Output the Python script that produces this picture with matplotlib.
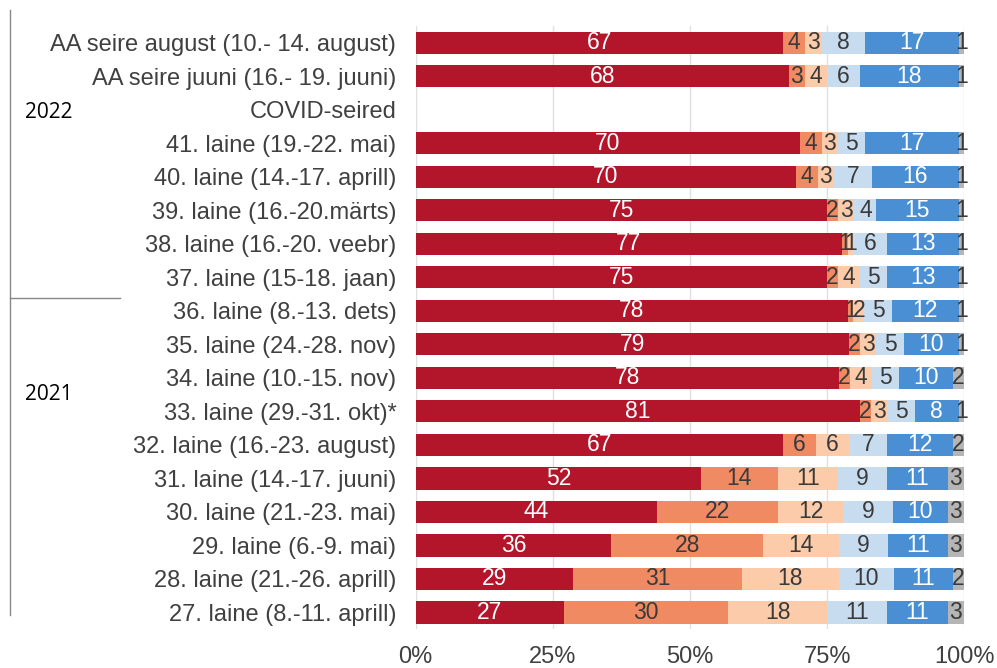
import numpy as np
import matplotlib
matplotlib.use("Agg")
import matplotlib.pyplot as plt

plt.rcParams['font.family'] = ['Liberation Sans', 'DejaVu Sans']

# Row labels, top to bottom
labels = ["AA seire august (10.- 14. august)",
          "AA seire juuni (16.- 19. juuni)",
          "COVID-seired",
          "41. laine (19.-22. mai)",
          "40. laine (14.-17. aprill)",
          "39. laine (16.-20.märts)",
          "38. laine (16.-20. veebr)",
          "37. laine (15-18. jaan)",
          "36. laine (8.-13. dets)",
          "35. laine (24.-28. nov)",
          "34. laine (10.-15. nov)",
          "33. laine (29.-31. okt)*",
          "32. laine (16.-23. august)",
          "31. laine (14.-17. juuni)",
          "30. laine (21.-23. mai)",
          "29. laine (6.-9. mai)",
          "28. laine (21.-26. aprill)",
          "27. laine (8.-11. aprill)"]

# Segment values per row (0 for the empty heading row)
s1 = [67, 68, 0, 70, 70, 75, 77, 75, 78, 79, 78, 81, 67, 52, 44, 36, 29, 27]
s2 = [4, 3, 0, 4, 4, 2, 1, 2, 1, 2, 2, 2, 6, 14, 22, 28, 31, 30]
s3 = [3, 4, 0, 3, 3, 3, 1, 4, 2, 3, 4, 3, 6, 11, 12, 14, 18, 18]
s4 = [8, 6, 0, 5, 7, 4, 6, 5, 5, 5, 5, 5, 7, 9, 9, 9, 10, 11]
s5 = [17, 18, 0, 17, 16, 15, 13, 13, 12, 10, 10, 8, 12, 11, 10, 11, 11, 11]
s6 = [1, 1, 0, 1, 1, 1, 1, 1, 1, 1, 2, 1, 2, 3, 3, 3, 2, 3]

colors = ["#B3162B", "#EF8A62", "#FBCBAA", "#C7DCEF", "#4A8FD3", "#B5B5B5"]
text_colors = ["white", "#3a3a3a", "#3a3a3a", "#3a3a3a", "white", "#3a3a3a"]

fig = plt.figure(figsize=(9.97, 6.68), dpi=100)
ax = fig.add_axes([0.417, 0.058, 0.550, 0.903])

data = np.array([s1, s2, s3, s4, s5, s6], dtype=float)
totals = data.sum(axis=0)
totals[totals == 0] = 1
scaled = data / totals * 100

y = np.arange(len(labels))
left = np.zeros(len(labels))
for k in range(6):
    ax.barh(y, scaled[k], left=left, height=0.66, color=colors[k], zorder=2)
    for i in range(len(labels)):
        if data[k, i] > 0:
            ax.text(left[i] + scaled[k, i] / 2, y[i], str(int(data[k, i])),
                    ha="center", va="center", fontsize=16.5,
                    color=text_colors[k], zorder=3)
    left += scaled[k]

ax.set_ylim(len(labels) - 0.5, -0.5)
ax.set_xlim(0, 100)
ax.set_yticks(y)
ax.set_yticklabels(labels, fontsize=17, color="#404040")
ax.set_xticks([0, 25, 50, 75, 100])
ax.set_xticklabels(["0%", "25%", "50%", "75%", "100%"], fontsize=17, color="#404040")
ax.tick_params(length=0)
ax.tick_params(axis="y", pad=14)
ax.tick_params(axis="x", pad=12)
ax.grid(axis="x", color="#e0e0e0", linewidth=1, zorder=0)
for sp in ax.spines.values():
    sp.set_visible(False)

# Year group brackets on the left
fig.add_artist(plt.Line2D([10 / 997, 10 / 997], [1 - 10 / 668, 1 - 615 / 668],
                          color="#888888", linewidth=1))
fig.add_artist(plt.Line2D([10 / 997, 120 / 997], [1 - 298 / 668, 1 - 298 / 668],
                          color="#888888", linewidth=1))
fig.text(25 / 997, 1 - 113 / 668, "2022", fontsize=15, family="Open Sans",
         va="center", ha="left", color="black")
fig.text(25 / 997, 1 - 394 / 668, "2021", fontsize=15, family="Open Sans",
         va="center", ha="left", color="black")

fig.savefig("out.png", dpi=100)
